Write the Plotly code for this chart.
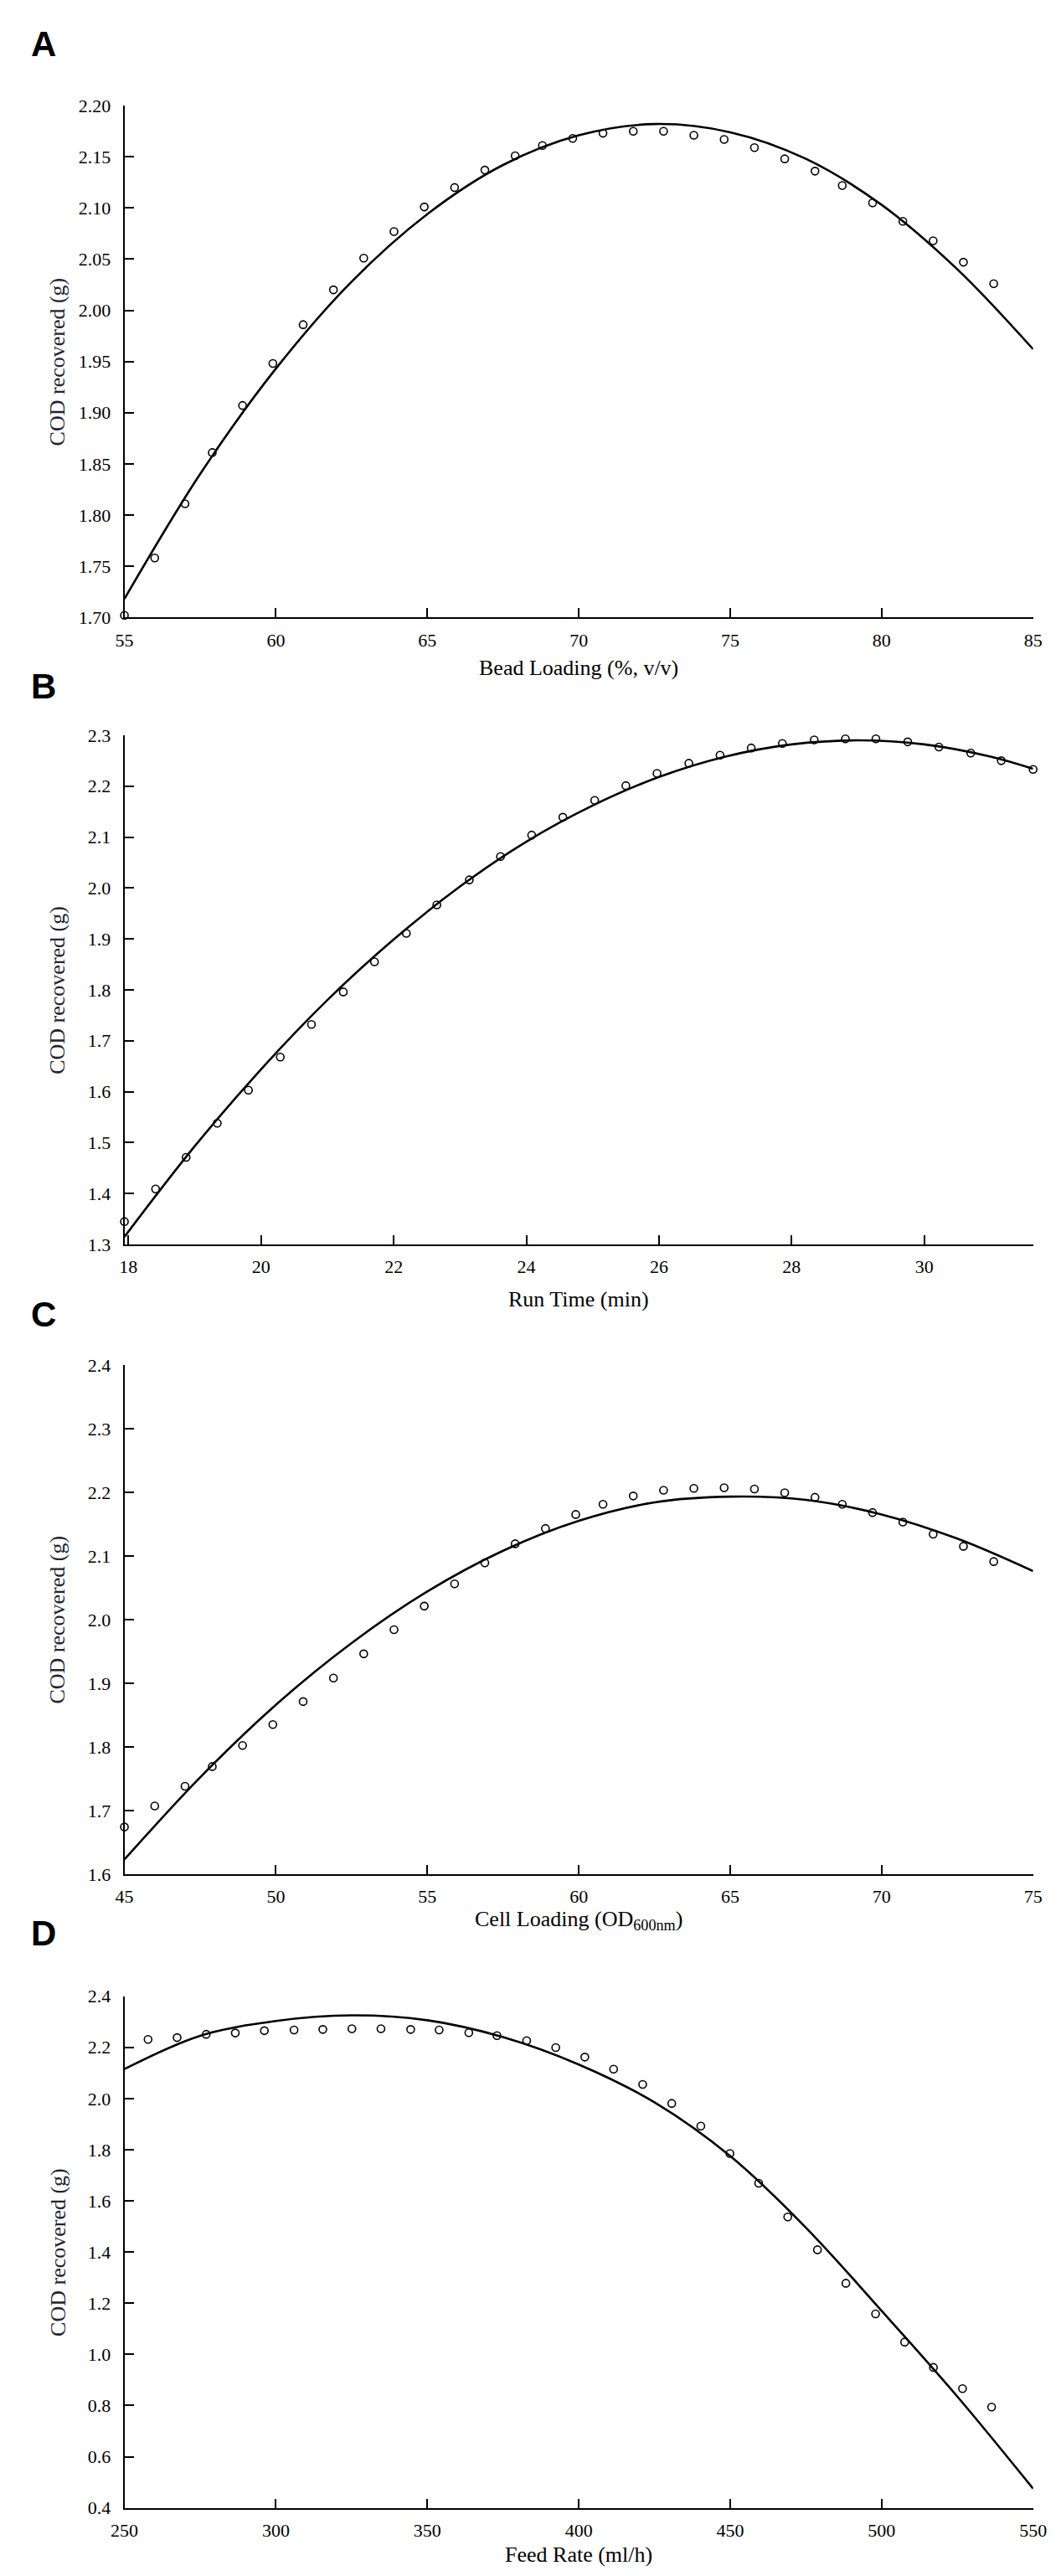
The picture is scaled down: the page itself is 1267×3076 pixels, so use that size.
import plotly.graph_objects as go

W, H = 1267, 3076

# ---------------- data ----------------
# Panel A: Bead Loading
a_pts_x = [55.0, 56.0, 57.0, 57.9, 58.9, 59.9, 60.9, 61.9, 62.9, 63.9,
           64.9, 65.9, 66.9, 67.9, 68.8, 69.8, 70.8, 71.8, 72.8, 73.8,
           74.8, 75.8, 76.8, 77.8, 78.7, 79.7, 80.7, 81.7, 82.7, 83.7]
a_pts_y = [1.702, 1.758, 1.811, 1.861, 1.907, 1.948, 1.986, 2.020, 2.051, 2.077,
           2.101, 2.120, 2.137, 2.151, 2.161, 2.168, 2.173, 2.175, 2.175, 2.171,
           2.167, 2.159, 2.148, 2.136, 2.122, 2.105, 2.087, 2.068, 2.047, 2.026]
a_fit_x = [55, 57.5, 60, 62.5, 65, 67.5, 70, 72.5, 75, 77.5, 80, 82.5, 85]
a_fit_y = [1.718, 1.840, 1.943, 2.028, 2.094, 2.142, 2.171, 2.182, 2.174, 2.148, 2.103, 2.040, 1.962]

# Panel B: Run Time
b_pts_x = [17.94, 18.41, 18.87, 19.34, 19.81, 20.29, 20.76, 21.24, 21.71, 22.19,
           22.65, 23.14, 23.61, 24.08, 24.55, 25.03, 25.50, 25.97, 26.45, 26.92,
           27.39, 27.86, 28.34, 28.81, 29.27, 29.75, 30.22, 30.70, 31.16, 31.64]
b_pts_y = [1.345, 1.409, 1.471, 1.538, 1.603, 1.668, 1.732, 1.796, 1.855, 1.911,
           1.967, 2.016, 2.062, 2.104, 2.139, 2.172, 2.201, 2.225, 2.245, 2.261,
           2.275, 2.284, 2.291, 2.293, 2.293, 2.287, 2.277, 2.265, 2.250, 2.233]
b_fit_x = [17.94, 19, 20, 21, 22, 23, 24, 25, 26, 27, 28, 29, 30, 31, 31.64]
b_fit_y = [1.315, 1.493, 1.644, 1.780, 1.899, 2.003, 2.091, 2.162, 2.218, 2.258, 2.282, 2.290, 2.282, 2.258, 2.234]

# Panel C: Cell Loading
c_pts_x = [45.0, 46.0, 47.0, 47.9, 48.9, 49.9, 50.9, 51.9, 52.9, 53.9,
           54.9, 55.9, 56.9, 57.9, 58.9, 59.9, 60.8, 61.8, 62.8, 63.8,
           64.8, 65.8, 66.8, 67.8, 68.7, 69.7, 70.7, 71.7, 72.7, 73.7]
c_pts_y = [1.674, 1.707, 1.738, 1.769, 1.802, 1.835, 1.871, 1.908, 1.946, 1.984,
           2.021, 2.056, 2.089, 2.119, 2.143, 2.165, 2.181, 2.194, 2.203, 2.206,
           2.207, 2.205, 2.199, 2.192, 2.181, 2.168, 2.153, 2.134, 2.115, 2.091]
c_fit_x = [45, 47.5, 50, 52.5, 55, 57.5, 60, 62.5, 65, 67.5, 70, 72.5, 75]
c_fit_y = [1.623, 1.752, 1.866, 1.963, 2.044, 2.108, 2.155, 2.184, 2.193, 2.188, 2.165, 2.127, 2.076]

# Panel D: Feed Rate
d_pts_x = [257.8, 267.4, 277.0, 286.6, 296.2, 306.0, 315.5, 325.1, 334.7, 344.5,
           353.9, 363.7, 373.0, 382.8, 392.4, 402.0, 411.5, 421.1, 430.7, 440.3,
           449.9, 459.4, 469.0, 478.8, 488.2, 498.0, 507.6, 517.1, 526.7, 536.3]
d_pts_y = [2.231, 2.238, 2.251, 2.256, 2.265, 2.268, 2.270, 2.273, 2.273, 2.270,
           2.268, 2.257, 2.246, 2.226, 2.199, 2.162, 2.115, 2.055, 1.981, 1.892,
           1.785, 1.669, 1.537, 1.409, 1.278, 1.158, 1.048, 0.949, 0.866, 0.794]
d_fit_x = [250, 275, 300, 325, 350, 375, 400, 425, 450, 475, 500, 525, 550]
d_fit_y = [2.115, 2.245, 2.303, 2.325, 2.306, 2.240, 2.133, 1.985, 1.775, 1.495, 1.170, 0.835, 0.475]

panel_letters = ["A", "B", "C", "D"]
x_titles = ["Bead Loading (%, v/v)", "Run Time (min)",
            "Cell Loading (OD<sub>600nm</sub>)", "Feed Rate (ml/h)"]
y_title = "COD recovered (g)"

x_ranges = [[55, 85], [17.94, 31.64], [45, 75], [250, 550]]
x_ticks = [[55, 60, 65, 70, 75, 80, 85], [18, 20, 22, 24, 26, 28, 30],
           [45, 50, 55, 60, 65, 70, 75], [250, 300, 350, 400, 450, 500, 550]]
y_ranges = [[1.70, 2.20], [1.3, 2.3], [1.6, 2.4], [0.4, 2.4]]
y_ticks = [[1.70, 1.75, 1.80, 1.85, 1.90, 1.95, 2.00, 2.05, 2.10, 2.15, 2.20],
           [1.3, 1.4, 1.5, 1.6, 1.7, 1.8, 1.9, 2.0, 2.1, 2.2, 2.3],
           [1.6, 1.7, 1.8, 1.9, 2.0, 2.1, 2.2, 2.3, 2.4],
           [0.4, 0.6, 0.8, 1.0, 1.2, 1.4, 1.6, 1.8, 2.0, 2.2, 2.4]]
y_formats = [".2f", ".1f", ".1f", ".1f"]

pts = [(a_pts_x, a_pts_y), (b_pts_x, b_pts_y), (c_pts_x, c_pts_y), (d_pts_x, d_pts_y)]
fits = [(a_fit_x, a_fit_y), (b_fit_x, b_fit_y), (c_fit_x, c_fit_y), (d_fit_x, d_fit_y)]

# ---------------- layout geometry (pixels) ----------------
plot_left, plot_right = 127, 1242
plot_tops = [107, 865, 1623, 2383]
plot_bottoms = [723, 1478, 2236, 2999]
label_centers = [33, 806, 1562, 2307]
xtitle_centers = [784, 1544, 2292, 3055]

def px_x(p):
    return p / W

def px_y(p):
    return 1 - p / H

FONT = "Liberation Serif, Times New Roman, serif"

fig = go.Figure()
layout = dict(
    width=W, height=H,
    margin=dict(l=0, r=0, t=0, b=0),
    paper_bgcolor="white", plot_bgcolor="white",
    showlegend=False,
    font=dict(family=FONT, size=22, color="black"),
)
annotations = []

for i in range(4):
    n = "" if i == 0 else str(i + 1)
    xa, ya = "xaxis" + n, "yaxis" + n
    xr, yr = "x" + n, "y" + n
    fx, fy = fits[i]
    px, py = pts[i]
    fig.add_trace(go.Scatter(x=fx, y=fy, mode="lines", xaxis=xr, yaxis=yr,
                             line=dict(color="black", width=2.6, shape="spline", smoothing=1.0),
                             cliponaxis=False, hoverinfo="skip"))
    fig.add_trace(go.Scatter(x=px, y=py, mode="markers", xaxis=xr, yaxis=yr,
                             marker=dict(symbol="circle-open", size=9, color="black",
                                         line=dict(width=1.6, color="black")),
                             cliponaxis=False))
    axis_common = dict(showgrid=False, zeroline=False, showline=True,
                       linecolor="black", linewidth=2, ticks="inside",
                       ticklen=11, tickwidth=2, tickcolor="black",
                       tickfont=dict(family=FONT, size=22, color="black"))
    layout[xa] = dict(axis_common, domain=[px_x(plot_left), px_x(plot_right)],
                      range=x_ranges[i], tickvals=x_ticks[i], anchor=yr,
                      ticklabelstandoff=6)
    layout[ya] = dict(axis_common,
                      domain=[px_y(plot_bottoms[i]), px_y(plot_tops[i])],
                      range=y_ranges[i], tickvals=y_ticks[i], tickformat=y_formats[i],
                      anchor=xr, ticklabelstandoff=10)
    # panel letter
    annotations.append(dict(text="<b>" + panel_letters[i] + "</b>", xref="paper", yref="paper",
                            x=px_x(10), y=px_y(label_centers[i]), xanchor="left", yanchor="middle",
                            showarrow=False,
                            font=dict(family="Liberation Sans, Arial, sans-serif", size=42, color="black")))
    # x title
    annotations.append(dict(text=x_titles[i], xref="paper", yref="paper",
                            x=px_x((plot_left + plot_right) / 2), y=px_y(xtitle_centers[i]),
                            xanchor="center", yanchor="middle", showarrow=False,
                            font=dict(family=FONT, size=26, color="black")))
    # y title
    annotations.append(dict(text=y_title, xref="paper", yref="paper",
                            x=px_x(45), y=px_y((plot_tops[i] + plot_bottoms[i]) / 2),
                            xanchor="center", yanchor="middle", textangle=-90, showarrow=False,
                            font=dict(family=FONT, size=26, color="#1c2535")))

layout["annotations"] = annotations
fig.update_layout(**layout)
fig.write_html("out.html")
